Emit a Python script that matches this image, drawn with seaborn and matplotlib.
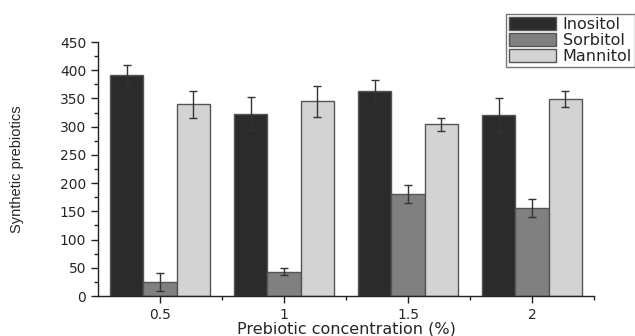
import pandas as pd
import matplotlib.pyplot as plt
import seaborn as sns
import numpy as np
from matplotlib.ticker import MultipleLocator

# values
concentrations = ['0.5', '1', '1.5', '2']
sugars = ['Inositol', 'Sorbitol', 'Mannitol']
inositol = [391, 323, 364, 321]
sorbitol = [24, 43, 180, 156]
mannitol = [340, 345, 304, 349]
inositol_err = [19, 29, 18, 30]
sorbitol_err = [16, 6, 16, 16]
mannitol_err = [24, 27, 12, 14]
colors = ['#2b2b2b', '#808080', '#d3d3d3']

data = pd.DataFrame({
    'conc': concentrations * 3,
    'sugar': np.repeat(sugars, len(concentrations)),
    'value': inositol + sorbitol + mannitol,
    'err': inositol_err + sorbitol_err + mannitol_err,
})

sns.set_style('white')
plt.rcParams['font.family'] = ['DejaVu Sans']

fig = plt.figure(figsize=(6.35, 3.36), dpi=100)
ax = fig.add_axes([98 / 635, 1 - 296 / 336, 496 / 635, 254 / 336])

sns.barplot(data=data, x='conc', y='value', hue='sugar', palette=colors,
            errorbar=None, width=0.8, edgecolor='#555555', linewidth=1,
            saturation=1, legend=False, ax=ax)

# error bars on top of the bars seaborn drew
for container, sugar in zip(ax.containers, sugars):
    sub = data[data['sugar'] == sugar]
    xs = [b.get_x() + b.get_width() / 2 for b in container]
    ax.errorbar(xs, sub['value'], yerr=sub['err'], fmt='none',
                ecolor='#333333', elinewidth=1, capsize=3, capthick=1)

ax.set_xlim(-0.5, 3.5)
ax.set_ylim(0, 450)
ax.yaxis.set_major_locator(MultipleLocator(50))
ax.yaxis.set_minor_locator(MultipleLocator(25))
ax.set_xticks([0.5, 1.5, 2.5, 3.5], minor=True)
sns.despine(ax=ax)
for s in ['left', 'bottom']:
    ax.spines[s].set_color('#222222')
    ax.spines[s].set_linewidth(1)
ax.tick_params(axis='both', which='major', direction='out', length=5,
               width=1, color='#222222', labelsize=10, left=True, bottom=True)
ax.tick_params(axis='both', which='minor', direction='out', length=3,
               width=1, color='#222222', left=True, bottom=True)

ax.set_xlabel('Prebiotic concentration (%)', fontsize=11.5, labelpad=0)
ax.set_ylabel('Synthetic prebiotics', fontsize=10.5, family='Liberation Sans')
ax.yaxis.set_label_coords(-0.15, 0.5)

handles = [plt.Rectangle((0, 0), 1, 1, facecolor=c, edgecolor='#555555', lw=1)
           for c in colors]
leg = fig.legend(handles, sugars, loc='upper left',
                 bbox_to_anchor=(506 / 635, 1 - 14 / 336),
                 prop={'size': 11.5},
                 handlelength=2.9, handleheight=0.85, labelspacing=0.05,
                 handletextpad=0.45, borderpad=0.2, borderaxespad=0,
                 fancybox=False, framealpha=1, edgecolor='#777777')
leg.get_frame().set_linewidth(1)

fig.savefig('out.png', dpi=100)
